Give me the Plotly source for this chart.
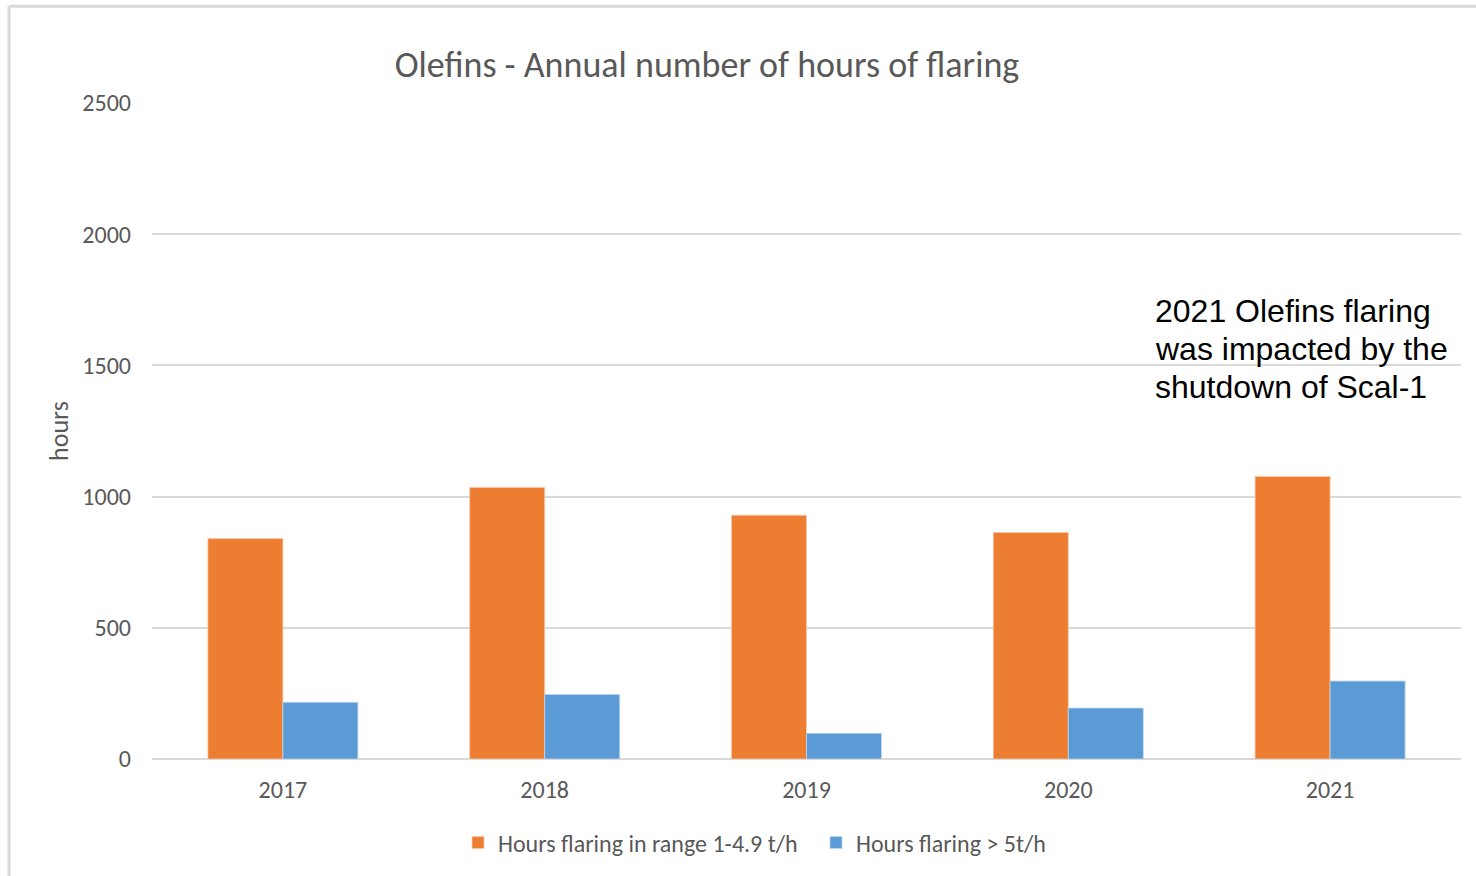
import plotly.graph_objects as go

# Annual flaring hours at the Olefins unit
years = ["2017", "2018", "2019", "2020", "2021"]
hours_low_rate = [840, 1035, 929, 863, 1077]   # flaring in range 1-4.9 t/h
hours_high_rate = [216, 246, 98, 194, 297]     # flaring > 5 t/h
y_ticks = [0, 500, 1000, 1500, 2000, 2500]
note_lines = ["2021 Olefins flaring", "was impacted by the", "shutdown of Scal-1"]

ORANGE = "#ED7D31"
BLUE = "#5B9BD5"
GRID = "#D9D9D9"
TEXT = "#595959"
FONT = "Calibri, Carlito, Lato, sans-serif"

fig = go.Figure()
fig.add_trace(go.Bar(
    x=years, y=hours_low_rate, name="Hours flaring in range 1-4.9 t/h",
    marker=dict(color=ORANGE, line=dict(width=0.8, color="#F8C9A8")),
))
fig.add_trace(go.Bar(
    x=years, y=hours_high_rate, name="Hours flaring > 5t/h",
    marker=dict(color=BLUE, line=dict(width=0.8, color="#BCD6EE")),
))

fig.update_layout(
    width=1476, height=876,
    margin=dict(l=152, r=15, t=103, b=116),
    paper_bgcolor="white", plot_bgcolor="white",
    barmode="group", bargap=0.427, bargroupgap=0,
    font=dict(family=FONT, color=TEXT, size=24),
    title=dict(
        text="Olefins - Annual number of hours of flaring",
        x=707 / 1476, xanchor="center", xref="container",
        y=1 - 64 / 876, yanchor="middle", yref="container",
        font=dict(family=FONT, size=36, color=TEXT),
    ),
    xaxis=dict(
        showgrid=False, showline=False, ticks="",
        ticklabelstandoff=14,
        tickfont=dict(family=FONT, size=24, color=TEXT),
    ),
    yaxis=dict(
        range=[0, 2500], tickvals=y_ticks,
        showgrid=True, gridcolor=GRID, gridwidth=1.5,
        zeroline=True, zerolinecolor=GRID, zerolinewidth=1.5,
        showline=False, ticks="", ticklabelstandoff=20,
        tickfont=dict(family=FONT, size=24, color=TEXT),
        title=dict(text="hours", standoff=6,
                   font=dict(family=FONT, size=26, color=TEXT)),
    ),
    legend=dict(
        orientation="h", x=(458 - 152) / 1309, xanchor="left",
        y=(760 - 843) / 657, yanchor="middle",
        font=dict(family=FONT, size=24, color=TEXT),
        entrywidth=313, entrywidthmode="pixels",
        itemclick=False, traceorder="normal",
    ),
    showlegend=True,
)

# Note on the 2021 figures, one annotation per line
line_centres = [311, 349, 387]
for text, yc in zip(note_lines, line_centres):
    fig.add_annotation(
        text=text, xref="paper", yref="paper",
        x=(1153 - 152) / 1309, xanchor="left",
        y=(760 - yc) / 657, yanchor="middle",
        align="left", showarrow=False,
        font=dict(family="Arial, 'Liberation Sans', sans-serif", size=32, color="#000000"),
    )

# Light frame around the chart area
frame_x = (9 - 152) / 1309
frame_y = (760 - 6) / 657
fig.add_shape(type="line", xref="paper", yref="paper",
              x0=frame_x, x1=frame_x, y0=frame_y, y1=-0.3,
              line=dict(color=GRID, width=3))
fig.add_shape(type="line", xref="paper", yref="paper",
              x0=frame_x, x1=1.2, y0=frame_y, y1=frame_y,
              line=dict(color=GRID, width=3))

fig.write_html("out.html")
